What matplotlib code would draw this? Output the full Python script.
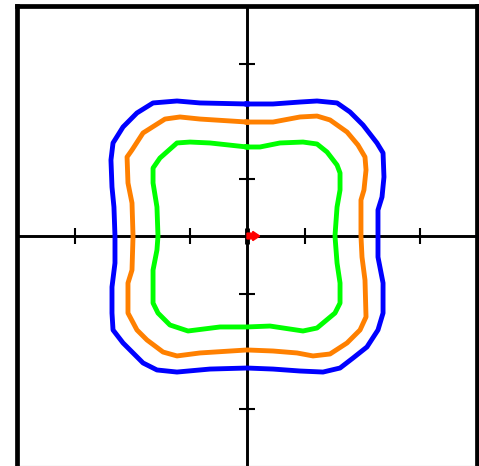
import numpy as np
import matplotlib
matplotlib.use("Agg")
import matplotlib.pyplot as plt

# level curves (data units = one tick spacing)
blue_x = [0, -0.409, -0.609, -0.817, -0.957, -1.078, -1.165, -1.183, -1.174, -1.157, -1.148,
          -1.148, -1.174, -1.174, -1.165, -1.078, -0.991, -0.904, -0.783, -0.609, -0.322, 0,
          0.226, 0.461, 0.661, 0.809, 0.922, 1.043, 1.139, 1.183, 1.183, 1.139, 1.139,
          1.139, 1.174, 1.191, 1.183, 1.130, 1.009, 0.896, 0.783, 0.609, 0.461, 0.226]
blue_y = [1.148, 1.157, 1.174, 1.157, 1.070, 0.948, 0.809, 0.661, 0.426, 0.252, 0,
          -0.235, -0.443, -0.670, -0.817, -0.930, -1.017, -1.104, -1.165, -1.183, -1.157, -1.148,
          -1.157, -1.174, -1.183, -1.148, -1.061, -0.965, -0.817, -0.670, -0.409, -0.183, 0,
          0.226, 0.339, 0.513, 0.722, 0.809, 0.965, 1.078, 1.157, 1.174, 1.165, 1.148]

orange_x = [0, -0.409, -0.583, -0.713, -0.904, -1.0, -1.043, -1.035, -1.0, -0.991,
            -1.0, -1.035, -1.035, -0.957, -0.870, -0.730, -0.609, -0.409, 0,
            0.226, 0.435, 0.574, 0.722, 0.870, 0.983, 1.035, 1.026, 1.0, 0.991,
            0.991, 1.017, 1.035, 1.026, 0.965, 0.870, 0.722, 0.609, 0.461, 0.226]
orange_y = [0.991, 1.017, 1.035, 1.017, 0.896, 0.748, 0.687, 0.461, 0.287, 0,
            -0.296, -0.409, -0.670, -0.817, -0.904, -1.009, -1.043, -1.017, -0.991,
            -1.0, -1.017, -1.043, -1.026, -0.930, -0.817, -0.704, -0.383, -0.183, 0,
            0.313, 0.400, 0.574, 0.687, 0.791, 0.904, 1.009, 1.043, 1.035, 0.991]

green_x = [0, -0.322, -0.496, -0.609, -0.757, -0.817, -0.817, -0.783, -0.774,
           -0.783, -0.817, -0.817, -0.774, -0.670, -0.513, -0.235, 0,
           0.2, 0.487, 0.609, 0.765, 0.809, 0.809, 0.783, 0.765,
           0.783, 0.809, 0.809, 0.783, 0.696, 0.609, 0.487, 0.287, 0.113]
green_y = [0.774, 0.809, 0.817, 0.809, 0.678, 0.591, 0.461, 0.252, 0,
           -0.122, -0.296, -0.583, -0.670, -0.774, -0.826, -0.791, -0.791,
           -0.783, -0.826, -0.8, -0.670, -0.583, -0.409, -0.235, 0,
           0.252, 0.4, 0.548, 0.617, 0.730, 0.8, 0.817, 0.809, 0.774]

tick_pos = [-1.5, -0.5, 0.5, 1.5]
arrow_xy = (0.0, 0.0)
arrow_dxdy = (0.05, 0.0)

fig = plt.figure(figsize=(4.79, 4.66), dpi=100)
ax = fig.add_axes([17 / 479, 0, 460 / 479, 460 / 466])
ax.set_xlim(-2, 2)
ax.set_ylim(-2, 2)
ax.set_xticks([])
ax.set_yticks([])
for s in ax.spines.values():
    s.set_linewidth(3.4)
    s.set_color("black")
ax.spines["bottom"].set_linewidth(0.8)
ax.spines["bottom"].set_color("0.6")

# center axes with cross ticks
ax.axhline(0, color="black", lw=2.1, zorder=1)
ax.axvline(0, color="black", lw=2.1, zorder=1)
ax.plot(tick_pos, np.zeros(len(tick_pos)), ls="none", marker="|", ms=11, mew=1.5, color="black")
ax.plot(np.zeros(len(tick_pos)), tick_pos, ls="none", marker="_", ms=11, mew=1.5, color="black")

for xs, ys, c in [(blue_x, blue_y, "#0000ff"), (orange_x, orange_y, "#ff8000"), (green_x, green_y, "#00ff00")]:
    ax.plot(xs + xs[:1], ys + ys[:1], color=c, lw=3.5, solid_joinstyle="round", zorder=2)

ax.plot([arrow_xy[0]], [arrow_xy[1]], ls="none", marker="|", ms=11, mew=3.5, color="black", zorder=3)
ax.arrow(arrow_xy[0], arrow_xy[1], arrow_dxdy[0], arrow_dxdy[1], width=0.05, head_width=0.08,
         head_length=0.06, color="red", zorder=4)

fig.savefig("out.png", dpi=100)
